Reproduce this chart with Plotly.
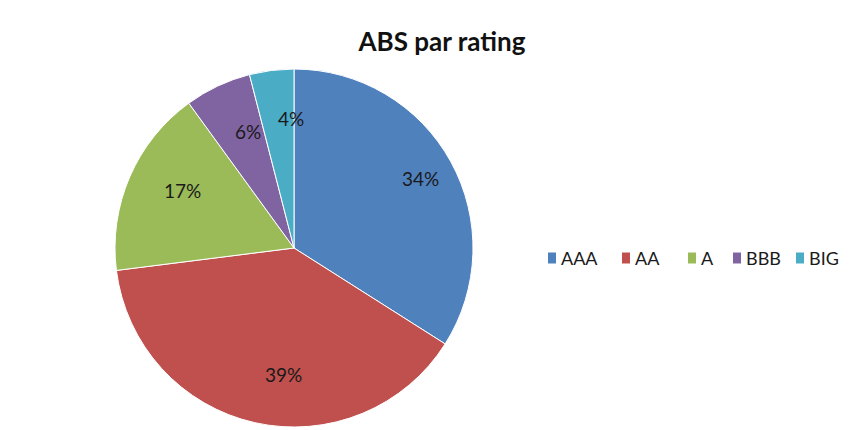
import math
import plotly.graph_objects as go

categories = ["AAA", "AA", "A", "BBB", "BIG"]
values = [34, 39, 17, 6, 4]
colors = ["#4F81BD", "#C0504D", "#9BBB59", "#8064A2", "#4BACC6"]

W, H = 862, 430
OFF = 8  # page body margin offset of the plot div
FONT = "Lato, Open Sans, sans-serif"


def px_x(x):
    return (x - OFF) / W


def px_y(y):
    return 1 - (y - OFF) / H


# pie domain in screen pixels (left, right, top, bottom)
dx0, dx1 = 115, 473
dy_top, dy_bot = 66, 430

fig = go.Figure(go.Pie(
    labels=categories,
    values=values,
    sort=False,
    direction="clockwise",
    rotation=0,
    marker=dict(colors=colors, line=dict(color="#ffffff", width=1)),
    textinfo="none",
    domain=dict(x=[px_x(dx0), px_x(dx1)], y=[px_y(dy_bot), px_y(dy_top)]),
    hoverinfo="label+percent",
    showlegend=False,
))

# percent labels placed Excel-style (outer part of each slice), derived from the values
total = sum(values)
cx = (dx0 + dx1) / 2
cy = (dy_top + dy_bot) / 2
r = min(dx1 - dx0, dy_bot - dy_top) / 2 * 0.98
cum = 0
for v in values:
    mid = (cum + v / 2) / total * 2 * math.pi
    cum += v
    px = cx + 0.82 * r * math.sin(mid)
    py = cy - 0.82 * r * math.cos(mid)
    fig.add_annotation(x=px_x(px), y=px_y(py), xref="paper", yref="paper",
                       text=f"{round(v / total * 100)}%", showarrow=False,
                       font=dict(family=FONT, size=19, color="#1a1a1a"))

# legend (Excel-style compact row): square swatch + label
legend_left = [548, 622, 688, 733, 796]   # swatch left edges, px (layout)
legend_cy = 258
for cat, col, lx in zip(categories, colors, legend_left):
    fig.add_shape(type="rect", xref="paper", yref="paper",
                  x0=px_x(lx), x1=px_x(lx + 8),
                  y0=px_y(legend_cy + 5.5), y1=px_y(legend_cy - 5.5),
                  fillcolor=col, line=dict(width=0))
    fig.add_annotation(x=px_x(lx + 11), y=px_y(legend_cy), xref="paper", yref="paper",
                       xanchor="left", yanchor="middle", text=cat, showarrow=False,
                       font=dict(family=FONT, size=18, color="#1a1a1a"))

fig.update_layout(
    width=W, height=H,
    margin=dict(l=0, r=0, t=0, b=0),
    paper_bgcolor="#ffffff",
    plot_bgcolor="#ffffff",
    title=dict(text="<b>ABS par rating</b>", x=px_x(442), xanchor="center",
               y=px_y(42), yanchor="middle",
               font=dict(family=FONT, size=26, color="#111111")),
    showlegend=False,
)

fig.write_html("out.html")
